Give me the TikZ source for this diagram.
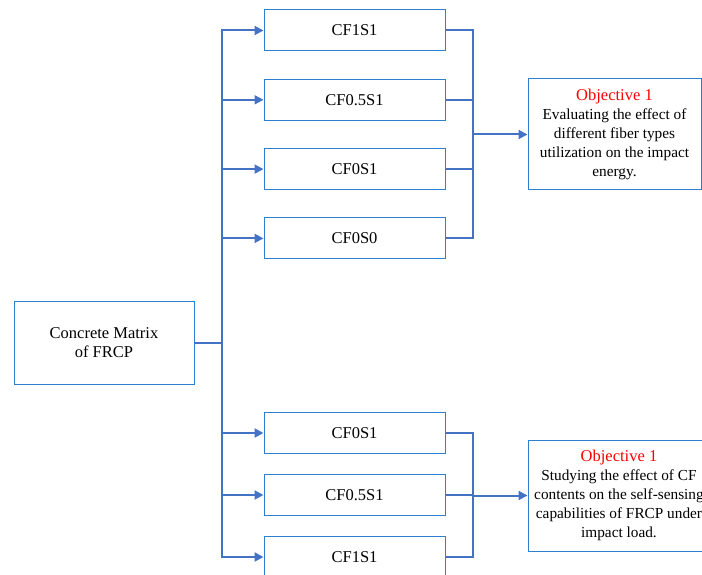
\documentclass[tikz,border=0pt]{standalone}
\usepackage{fontspec}
\setmainfont{Liberation Serif}
\usetikzlibrary{positioning,arrows.meta}

\definecolor{boxblue}{HTML}{2F80CC}
\definecolor{linkblue}{HTML}{4472C4}

\begin{document}
\begin{tikzpicture}[x=1pt,y=-1pt,on grid,
    font=\fontsize{16.5}{19}\selectfont,
    mix/.style={draw=boxblue,line width=1pt,minimum width=181pt,minimum height=41pt,inner sep=0pt},
    matrixbox/.style={draw=boxblue,line width=1pt,minimum width=180pt,minimum height=83pt,align=center},
    objbox/.style={draw=boxblue,line width=1pt,minimum height=111pt,inner sep=0pt,align=center,
      font=\fontsize{15.3}{18.9}\selectfont},
    link/.style={draw=linkblue,line width=2pt},
    feed/.style={link,-{Triangle[length=9pt,width=9pt]}}]
   \useasboundingbox (0,0) rectangle (702,575);
   \clip (0,0) rectangle (702,575);
   \node[matrixbox] (frcp) at (104,342.5) {Concrete Matrix\\of FRCP};
   \coordinate (jn) at (222,342.5);
   % first group
   \node[mix] (a1) at (354.5,30.5) {CF1S1};
   \node[mix] (a2) [below=69.3pt of a1] {CF0.5S1};
   \node[mix] (a3) [below=69.3pt of a2] {CF0S1};
   \node[mix] (a4) [below=69.3pt of a3] {CF0S0};
   % second group
   \node[mix] (b1) at (354.5,433) {CF0S1};
   \node[mix] (b2) [below=62pt of b1] {CF0.5S1};
   \node[mix] (b3) [below=62pt of b2] {CF1S1};
   \node[objbox,minimum width=173pt] (obj1) at (614.5,134.5)
     {\textcolor{red}{\fontsize{16.5}{19}\selectfont Objective 1}\\Evaluating the effect of\\different fiber types\\utilization on the impact\\energy.};
   \node[objbox,minimum width=182pt] (obj2) at (619,495.5)
     {\textcolor{red}{\fontsize{16.5}{19}\selectfont Objective 1}\\Studying the effect of CF\\contents on the self-sensing\\capabilities of FRCP under\\impact load.};
   \coordinate (ca) at (473,134.5);
   \coordinate (cb) at (473,495.5);
   \draw[link] (frcp.east) -- (jn);
   \foreach \n in {a1,a2,a3,a4,b1,b2,b3}
     \draw[feed] (jn) |- (\n.west);
   \foreach \n in {a1,a2,a3,a4}
     \draw[link] (\n.east) -| (ca);
   \foreach \n in {b1,b2,b3}
     \draw[link] (\n.east) -| (cb);
   \draw[feed] (ca) -- (obj1.west);
   \draw[feed] (cb) -- (obj2.west);
\end{tikzpicture}
\end{document}
